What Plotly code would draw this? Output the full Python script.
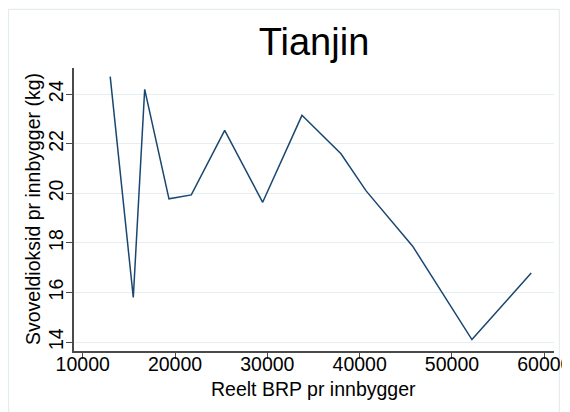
import plotly.graph_objects as go

# Data
gdp_per_capita = [12980, 15480, 16715, 19346, 21762, 25379, 29494, 33750, 37975, 40700, 45740, 52160, 58585]
so2_per_capita = [24.71, 15.80, 24.20, 19.78, 19.94, 22.54, 19.64, 23.15, 21.60, 20.10, 17.87, 14.10, 16.79]
x_ticks = [10000, 20000, 30000, 40000, 50000, 60000]
y_ticks = [14, 16, 18, 20, 22, 24]

title_text = "Tianjin"
x_title = "Reelt BRP pr innbygger"
y_title = "Svoveldioksid pr innbygger (kg)"

FONT = "Liberation Sans, Arial, sans-serif"
GRID = "#e6eef0"
AXIS = "#4a4a4a"

# The page body adds an 8px offset, so the figure is 8px smaller than the window
W, H = 562, 404
L, T = 66, 60
R = W - 546
B = H - 343
PW, PH = W - L - R, H - T - B

fig = go.Figure()
fig.add_trace(go.Scatter(
    x=gdp_per_capita, y=so2_per_capita, mode="lines",
    line=dict(color="#1a476f", width=1.5),
    showlegend=False, hoverinfo="skip",
))

fig.update_layout(
    width=W, height=H,
    margin=dict(l=L, r=R, t=T, b=B, autoexpand=False),
    paper_bgcolor="white", plot_bgcolor="white",
    font=dict(family=FONT, color="black", size=19.5),
    title=dict(text=title_text, font=dict(size=38, family=FONT, color="black"),
               x=0.5, xref="paper", xanchor="center",
               y=1 - 34 / H, yref="container", yanchor="middle"),
    xaxis=dict(
        range=[9058, 61050], tickvals=x_ticks, ticktext=[str(v) for v in x_ticks],
        showgrid=False, zeroline=False, automargin=False,
        showline=True, linecolor=AXIS, linewidth=1.5,
        ticks="outside", ticklen=6, tickwidth=1, tickcolor=AXIS,
        tickfont=dict(size=19.5), ticklabeloverflow="allow", ticklabelstandoff=-11,
    ),
    yaxis=dict(
        range=[13.64, 25.06], tickvals=y_ticks, ticktext=[str(v) for v in y_ticks],
        showgrid=True, gridcolor=GRID, gridwidth=1.2, zeroline=False, automargin=False,
        showline=True, linecolor=AXIS, linewidth=1.5,
        ticks="outside", ticklen=6, tickwidth=1, tickcolor=AXIS,
        tickangle=-90, tickfont=dict(size=19.5), ticklabeloverflow="allow", ticklabelstandoff=-5,
    ),
)

# axis titles
fig.add_annotation(text=x_title, xref="paper", yref="paper",
                   x=(305 - L) / PW, y=(H - B - 381) / PH,
                   xanchor="center", yanchor="middle", showarrow=False,
                   font=dict(size=19.5))
fig.add_annotation(text=y_title, xref="paper", yref="paper",
                   x=(25 - L) / PW, y=(H - B - 201) / PH, textangle=-90,
                   xanchor="center", yanchor="middle", showarrow=False,
                   font=dict(size=19.5))

# light outer frame of the graph region
fig.add_shape(type="rect", xref="paper", yref="paper",
              x0=(0.5 - L) / PW, x1=(551.3 - L) / PW,
              y0=(H - B - 420) / PH, y1=(H - B - 1.3) / PH,
              line=dict(color="#e3ecee", width=1.2), fillcolor="rgba(0,0,0,0)", layer="below")

fig.write_html("out.html")
